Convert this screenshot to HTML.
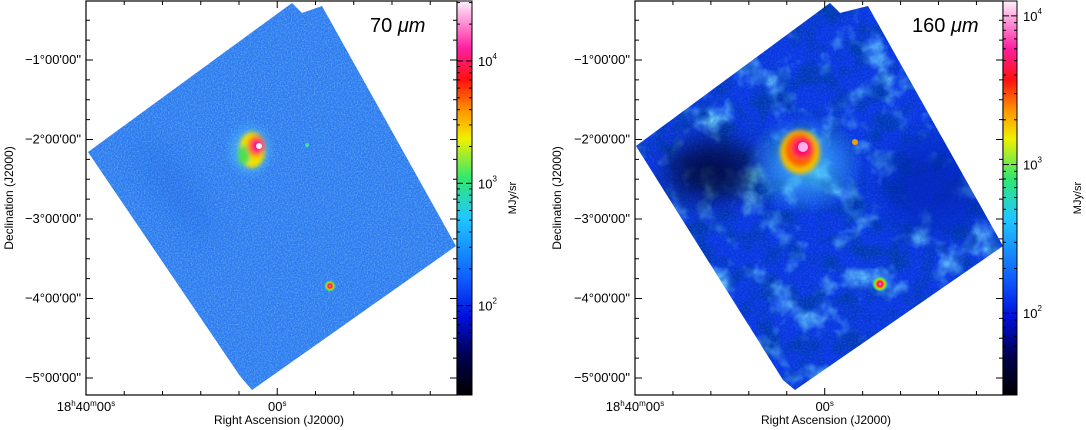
<!DOCTYPE html>
<html><head><meta charset="utf-8"><style>
html,body{margin:0;padding:0;background:#fff;width:1086px;height:430px;overflow:hidden}
svg{display:block;font-family:"Liberation Sans",sans-serif}
</style></head><body>
<svg id="fig" width="1086" height="430" viewBox="0 0 1086 430">
<defs>
<linearGradient id="cmap" x1="0" y1="1" x2="0" y2="0">
<stop offset="0" stop-color="#000000"/>
<stop offset="0.10" stop-color="#000050"/>
<stop offset="0.20" stop-color="#0010e0"/>
<stop offset="0.30" stop-color="#1060ff"/>
<stop offset="0.45" stop-color="#20c8ff"/>
<stop offset="0.55" stop-color="#30e870"/>
<stop offset="0.65" stop-color="#f0f000"/>
<stop offset="0.72" stop-color="#ff9800"/>
<stop offset="0.80" stop-color="#ff1010"/>
<stop offset="0.88" stop-color="#ff20a0"/>
<stop offset="1" stop-color="#fff0ff"/>
</linearGradient>
<filter id="noise" x="0" y="0" width="100%" height="100%">
<feTurbulence type="fractalNoise" baseFrequency="0.8" numOctaves="1" seed="3"/>
<feColorMatrix values="0 0 0 0 0.05  0 0 0 0 0.35  0 0 0 0 0.9  1.2 0 0 0 -0.45"/>
</filter>
<filter id="noise2" x="0" y="0" width="100%" height="100%">
<feTurbulence type="fractalNoise" baseFrequency="0.7" numOctaves="1" seed="9"/>
<feColorMatrix values="0 0 0 0 0.3  0 0 0 0 0.6  0 0 0 0 1  1.2 0 0 0 -0.5"/>
</filter>
<filter id="cloud" x="0" y="0" width="100%" height="100%">
<feTurbulence type="fractalNoise" baseFrequency="0.03" numOctaves="4" seed="7"/>
<feColorMatrix values="0 0 0 0 0.15  0 0 0 0 0.65  0 0 0 0 1  0 0 3 0 -1.55"/>
</filter>
<filter id="dark" x="0" y="0" width="100%" height="100%">
<feTurbulence type="fractalNoise" baseFrequency="0.045" numOctaves="3" seed="11"/>
<feColorMatrix values="0 0 0 0 0  0 0 0 0 0.04  0 0 0 0 0.45  3 0 0 0 -1.3"/>
</filter>
<filter id="fine" x="0" y="0" width="100%" height="100%">
<feTurbulence type="fractalNoise" baseFrequency="0.6" numOctaves="1" seed="5"/>
<feColorMatrix values="0 0 0 0 0.02  0 0 0 0 0.15  0 0 0 0 0.7  1.2 0 0 0 -0.5"/>
</filter>
<filter id="blur" x="-100%" y="-100%" width="300%" height="300%"><feGaussianBlur stdDeviation="14"/></filter>
<filter id="blur2" x="-50%" y="-50%" width="200%" height="200%"><feGaussianBlur stdDeviation="2"/></filter>
<radialGradient id="src" cx="0.5" cy="0.5" r="0.5">
<stop offset="0" stop-color="#fff0ff"/>
<stop offset="0.15" stop-color="#ff30b0"/>
<stop offset="0.35" stop-color="#ff2020"/>
<stop offset="0.55" stop-color="#f0c000"/>
<stop offset="0.75" stop-color="#40e060"/>
<stop offset="1" stop-color="#30c0ff" stop-opacity="0"/>
</radialGradient>
<radialGradient id="halo" cx="0.5" cy="0.5" r="0.5">
<stop offset="0" stop-color="#50d8ff" stop-opacity="0.8"/>
<stop offset="1" stop-color="#50d8ff" stop-opacity="0"/>
</radialGradient>
<clipPath id="clipL"><polygon points="88,152 292,3 302,13 322,6 456,246 252,390 240,376"/></clipPath>
<clipPath id="clipR"><polygon points="636,146 830,3 840,13 868,6 1003,246 795,390 783,380"/></clipPath>
</defs>

<g>
<g clip-path="url(#clipL)">
<rect x="86" y="0" width="372" height="396" fill="#2a76ee"/>
<rect x="86" y="0" width="372" height="396" filter="url(#noise)"/>
<rect x="86" y="0" width="372" height="396" filter="url(#noise2)"/>
<ellipse cx="175" cy="190" rx="12" ry="60" transform="rotate(-35 175 190)" fill="#1050d8" opacity="0.25" filter="url(#blur)"/>
<ellipse cx="250" cy="150" rx="26" ry="30" fill="url(#halo)"/>
<g filter="url(#blur2)">
<ellipse cx="252" cy="150" rx="13" ry="18" fill="#f0e000"/>
<ellipse cx="244" cy="155" rx="6" ry="10" fill="#50e050"/>
<ellipse cx="256" cy="146" rx="9" ry="11" fill="#ff8000"/>
<ellipse cx="257" cy="146" rx="6" ry="7" fill="#ff1080"/>
</g>
<circle cx="259" cy="146" r="3" fill="#fff0ff"/>
<circle cx="330" cy="286" r="6" fill="url(#src)"/>
<circle cx="307" cy="145" r="2" fill="#40e0a0"/>
</g>
<rect x="86" y="1" width="371" height="394" fill="none" stroke="#000" stroke-width="1.2"/>
<rect x="457" y="1" width="15" height="394" fill="url(#cmap)" stroke="#000"/>
<text x="370" y="32" font-size="20">70 <tspan font-style="italic">μm</tspan></text>
<text x="0" y="0" transform="translate(13,198) rotate(-90)" text-anchor="middle" font-size="12">Declination (J2000)</text>
<text x="279" y="424" text-anchor="middle" font-size="12">Right Ascension (J2000)</text>
<text x="0" y="0" transform="translate(516,198) rotate(-90)" text-anchor="middle" font-size="11">MJy/sr</text>
<g id="axL"></g>
</g>

<g>
<g clip-path="url(#clipR)">
<rect x="635" y="0" width="368" height="396" fill="#0a36e4"/>
<rect x="635" y="0" width="368" height="396" filter="url(#cloud)"/>
<rect x="635" y="0" width="368" height="396" filter="url(#dark)"/>
<rect x="635" y="0" width="368" height="396" filter="url(#fine)"/>
<ellipse cx="712" cy="170" rx="45" ry="30" fill="#000420" opacity="0.75" filter="url(#blur)"/>
<ellipse cx="935" cy="185" rx="55" ry="45" fill="#0620b0" opacity="0.6" filter="url(#blur)"/>
<ellipse cx="805" cy="165" rx="60" ry="50" fill="url(#halo)"/>
<g filter="url(#blur2)">
<ellipse cx="800" cy="152" rx="20" ry="22" fill="#f0c000"/>
<ellipse cx="800" cy="150" rx="15" ry="17" fill="#ff6000"/>
<ellipse cx="802" cy="148" rx="10" ry="10" fill="#ff1060"/>
</g>
<circle cx="803" cy="147" r="5" fill="#ffb0f0"/>
<circle cx="880" cy="284" r="8" fill="url(#src)"/>
<circle cx="855" cy="142" r="3" fill="#f0a000"/>
</g>
<rect x="635" y="1" width="368" height="394" fill="none" stroke="#000" stroke-width="1.2"/>
<rect x="1003" y="1" width="14" height="394" fill="url(#cmap)" stroke="#000"/>
<text x="912" y="32" font-size="20">160 <tspan font-style="italic">μm</tspan></text>
<text x="0" y="0" transform="translate(561,198) rotate(-90)" text-anchor="middle" font-size="12">Declination (J2000)</text>
<text x="826" y="424" text-anchor="middle" font-size="12">Right Ascension (J2000)</text>
<text x="0" y="0" transform="translate(1081,198) rotate(-90)" text-anchor="middle" font-size="11">MJy/sr</text>
<g id="axR"></g>
</g>
</svg>
<script>
const decLabels = ["\u22121\u00b000'00\"","\u22122\u00b000'00\"","\u22123\u00b000'00\"","\u22124\u00b000'00\"","\u22125\u00b000'00\""];
const decValues = [-1,-2,-3,-4,-5];
const raMinorCount = 10;
const cbExpLeft = [2,3,4];
const cbExpRight = [2,3,4];
const cbLeftRange = [1.27, 4.49];
const cbRightRange = [1.45, 4.1];

const NS="http://www.w3.org/2000/svg";
function mk(tag,attrs,parent){const e=document.createElementNS(NS,tag);for(const k in attrs)e.setAttribute(k,attrs[k]);parent.appendChild(e);return e;}
function decY(d){return 60+(-1-d)*79.5;}
function drawAxes(g,x0,x1,cbx,cbw,cbExp,cbRange){
  decValues.forEach((d,i)=>{
    const y=decY(d);
    const t=mk('line',{x1:x0,x2:x0+7,y1:y,y2:y,stroke:'#000'},g);
    
    const t2=mk('line',{x1:x1,x2:x1-7,y1:y,y2:y,stroke:'#000'},g);
    
    const tx=mk('text',{x:x0-5,y:y+4,'text-anchor':'end','font-size':13},g);
    tx.textContent=decLabels[i];
    
  });
  for(let d=-0.25;d>=-5.25;d-=0.25){const y=decY(d);if(y<2||y>394)continue;
    mk('line',{x1:x0,x2:x0+4,y1:y,y2:y,stroke:'#000'},g);mk('line',{x1:x1,x2:x1-4,y1:y,y2:y,stroke:'#000'},g);}
  const step=(x1-x0)/9.7;
  for(let i=1;i<raMinorCount;i++){const x=x0+i*step;if(x>x1-2)break;
    const l=i%5===0?7:4;
    const tk=mk('line',{x1:x,x2:x,y1:395,y2:395-l,stroke:'#000'},g);
    
    mk('line',{x1:x,x2:x,y1:1,y2:1+l,stroke:'#000'},g);}
  const l1=mk('text',{x:x0,y:411,'text-anchor':'middle','font-size':13},g);
  l1.innerHTML='18<tspan font-size="8" dy="-5">h</tspan><tspan dy="5">40</tspan><tspan font-size="8" dy="-5">m</tspan><tspan dy="5">00</tspan><tspan font-size="8" dy="-5">s</tspan>';
  
  const l2=mk('text',{x:x0+5*step,y:411,'text-anchor':'middle','font-size':13},g);
  l2.innerHTML='00<tspan font-size="8" dy="-5">s</tspan>';
  
  const cy=v=>395-(v-cbRange[0])/(cbRange[1]-cbRange[0])*394;
  for(let e=1;e<=4;e++)for(let m=1;m<10;m++){const v=e+Math.log10(m);const y=cy(v);if(y<2||y>394)continue;
    const l=m===1?6:3;mk('line',{x1:cbx+cbw,x2:cbx+cbw-l,y1:y,y2:y,stroke:'#000'},g);mk('line',{x1:cbx,x2:cbx+l,y1:y,y2:y,stroke:'#000'},g);}
  cbExp.forEach(e=>{const y=cy(e);
    const t=mk('text',{x:cbx+cbw+6,y:y+5,'font-size':13},g);
    t.innerHTML='10<tspan font-size="8" dy="-7">'+e+'</tspan>';
    });
}
drawAxes(document.getElementById('axL'),86,457,457,15,cbExpLeft,cbLeftRange);
drawAxes(document.getElementById('axR'),635,1003,1003,14,cbExpRight,cbRightRange);
</script>
</body></html>
